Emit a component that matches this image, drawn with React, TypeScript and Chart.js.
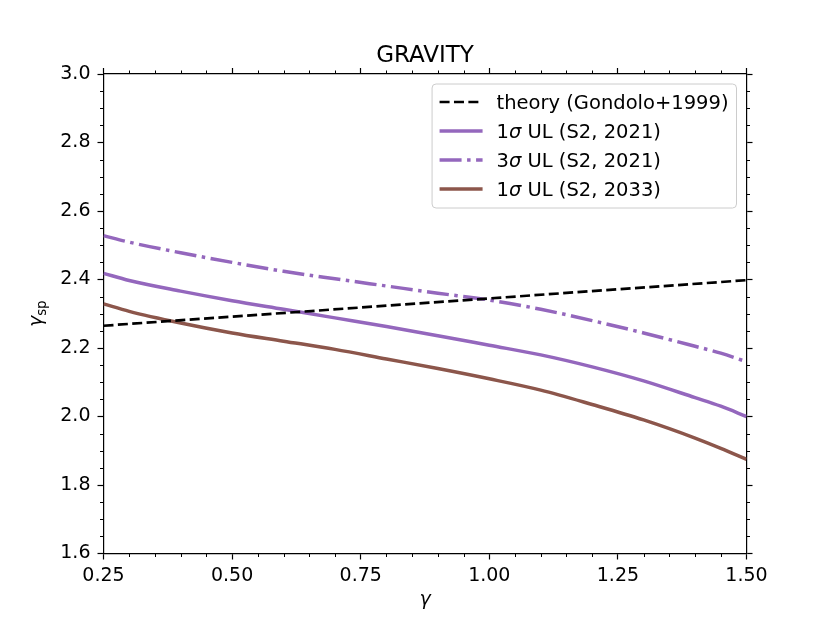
import { useEffect, useRef } from 'react'
import { Chart, registerables } from 'chart.js'

Chart.register(...registerables)

// gamma grid the upper limits were read on
const gammaGrid = [0.25, 0.3, 0.4, 0.5, 0.6, 0.7, 0.8, 0.9, 1.0, 1.1, 1.2, 1.3, 1.4, 1.45, 1.5]
const ul1sigma2021 = [2.418, 2.397, 2.366, 2.338, 2.313, 2.288, 2.263, 2.236, 2.208, 2.18, 2.145, 2.104, 2.055, 2.03, 2.0]
const ul3sigma2021 = [2.528, 2.509, 2.478, 2.45, 2.424, 2.402, 2.381, 2.36, 2.34, 2.313, 2.28, 2.244, 2.205, 2.185, 2.16]
const ul1sigma2033 = [2.329, 2.307, 2.273, 2.244, 2.22, 2.196, 2.168, 2.14, 2.11, 2.077, 2.035, 1.99, 1.937, 1.907, 1.875]

// theory (Gondolo+1999) is a straight line
const theoryGamma = [0.25, 1.5]
const theoryValues = [2.265, 2.398]

const xTickValues = [0.25, 0.5, 0.75, 1.0, 1.25, 1.5]
const yTickValues = [1.6, 1.8, 2.0, 2.2, 2.4, 2.6, 2.8, 3.0]
const xMinorPerMajor = 5
const yMinorPerMajor = 4

const FONT = '"DejaVu Sans", "Liberation Sans", sans-serif'
const TICK_SIZE = 19
const LEGEND_SIZE = 19.5

const minorBetween = (majors: number[], parts: number) => {
  const out: number[] = []
  for (let i = 0; i < majors.length - 1; i++) {
    const step = (majors[i + 1] - majors[i]) / parts
    for (let k = 1; k < parts; k++) out.push(majors[i] + k * step)
  }
  return out
}

const toPoints = (xs: number[], ys: number[]) => xs.map((x, i) => ({ x, y: ys[i] }))

// draws text, Greek letters in italic (like mathtext)
const drawRich = (ctx: CanvasRenderingContext2D, text: string, x: number, y: number, size: number) => {
  let cx = x
  for (const ch of text) {
    const greek = /[\u0370-\u03ff]/.test(ch)
    ctx.font = `${greek ? 'italic ' : ''}${size}px ${FONT}`
    ctx.fillText(ch, cx, y)
    cx += ctx.measureText(ch).width
  }
  return cx - x
}

const measureRich = (ctx: CanvasRenderingContext2D, text: string, size: number) => {
  let w = 0
  for (const ch of text) {
    const greek = /[\u0370-\u03ff]/.test(ch)
    ctx.font = `${greek ? 'italic ' : ''}${size}px ${FONT}`
    w += ctx.measureText(ch).width
  }
  return w
}

const decorations = {
  id: 'decorations',
  afterDraw(chart: any) {
    const ctx: CanvasRenderingContext2D = chart.ctx
    const { left, right, top, bottom } = chart.chartArea
    const xs = chart.scales.x
    const ys = chart.scales.y
    ctx.save()

    // minor ticks on all four sides, pointing out
    ctx.strokeStyle = '#000'
    ctx.lineWidth = 1
    ctx.beginPath()
    for (const v of minorBetween(xTickValues, xMinorPerMajor)) {
      const px = Math.round(xs.getPixelForValue(v)) + 0.5
      ctx.moveTo(px, bottom); ctx.lineTo(px, bottom + 3.5)
      ctx.moveTo(px, top); ctx.lineTo(px, top - 3.5)
    }
    for (const v of minorBetween(yTickValues, yMinorPerMajor)) {
      const py = Math.round(ys.getPixelForValue(v)) + 0.5
      ctx.moveTo(left, py); ctx.lineTo(left - 3.5, py)
      ctx.moveTo(right, py); ctx.lineTo(right + 3.5, py)
    }
    ctx.stroke()

    // title
    ctx.fillStyle = '#000'
    ctx.textAlign = 'center'
    ctx.textBaseline = 'alphabetic'
    ctx.font = `23px ${FONT}`
    ctx.fillText('GRAVITY', (left + right) / 2, 62)

    // x label
    ctx.font = `italic ${TICK_SIZE}px ${FONT}`
    ctx.fillText('γ', (left + right) / 2, 605)

    // y label, gamma with "sp" subscript
    ctx.save()
    ctx.translate(42, (top + bottom) / 2)
    ctx.rotate(-Math.PI / 2)
    ctx.font = `italic ${TICK_SIZE}px ${FONT}`
    const gw = ctx.measureText('γ').width
    ctx.font = `13.3px ${FONT}`
    const sw = ctx.measureText('sp').width
    const start = -(gw + sw) / 2
    ctx.textAlign = 'left'
    ctx.font = `italic ${TICK_SIZE}px ${FONT}`
    ctx.fillText('γ', start, 0)
    ctx.font = `13.3px ${FONT}`
    ctx.fillText('sp', start + gw, 4)
    ctx.restore()

    // legend in the upper right corner
    const items = chart.data.datasets
    const textW = Math.max(...items.map((d: any) => measureRich(ctx, d.label, LEGEND_SIZE)))
    const handle = 43
    const boxW = 7.5 + handle + 14 + textW + 8
    const boxR = right - 10
    const boxL = boxR - boxW
    const boxT = top + 10
    const rowH = 29
    const boxH = 18 + rowH * (items.length - 1) + 19
    ctx.beginPath()
    ctx.roundRect(boxL, boxT, boxW, boxH, 4)
    ctx.fillStyle = 'rgba(255,255,255,0.8)'
    ctx.fill()
    ctx.strokeStyle = '#cccccc'
    ctx.lineWidth = 1
    ctx.stroke()
    ctx.textAlign = 'left'
    items.forEach((d: any, i: number) => {
      const cy = boxT + 18 + i * rowH
      ctx.beginPath()
      ctx.setLineDash(d.borderDash || [])
      ctx.lineCap = 'butt'
      ctx.strokeStyle = d.borderColor
      ctx.lineWidth = d.borderWidth
      ctx.moveTo(boxL + 7.5, cy)
      ctx.lineTo(boxL + 7.5 + handle, cy)
      ctx.stroke()
      ctx.setLineDash([])
      ctx.fillStyle = '#000'
      drawRich(ctx, d.label, boxL + 7.5 + handle + 14, cy + 7, LEGEND_SIZE)
    })
    ctx.restore()
  }
}

const axisBase = (min: number, max: number, position: string) => ({
  type: 'linear' as const,
  position,
  min,
  max,
  grid: { drawOnChartArea: false, drawTicks: true, tickLength: 6, tickColor: '#000', tickWidth: 1.2 },
  border: { display: true, color: '#000', width: 1.2 }
})

export default function App() {
  const canvasRef = useRef<HTMLCanvasElement>(null)

  useEffect(() => {
    if (!canvasRef.current) return
    Chart.defaults.font.family = FONT
    const chart = new Chart(canvasRef.current, {
      type: 'line',
      data: {
        datasets: [
          {
            label: 'theory (Gondolo+1999)',
            data: toPoints(theoryGamma, theoryValues),
            borderColor: '#000000',
            borderWidth: 2.7,
            borderDash: [10, 4.4],
            pointRadius: 0
          },
          {
            label: '1σ UL (S2, 2021)',
            data: toPoints(gammaGrid, ul1sigma2021),
            borderColor: '#9467bd',
            borderWidth: 3.5,
            pointRadius: 0,
            cubicInterpolationMode: 'monotone'
          },
          {
            label: '3σ UL (S2, 2021)',
            data: toPoints(gammaGrid, ul3sigma2021),
            borderColor: '#9467bd',
            borderWidth: 3.5,
            borderDash: [22, 5.5, 3.5, 5.5],
            pointRadius: 0,
            cubicInterpolationMode: 'monotone'
          },
          {
            label: '1σ UL (S2, 2033)',
            data: toPoints(gammaGrid, ul1sigma2033),
            borderColor: '#8c564b',
            borderWidth: 3.5,
            pointRadius: 0,
            cubicInterpolationMode: 'monotone'
          }
        ]
      },
      options: {
        animation: false,
        responsive: false,
        layout: { padding: 0 },
        plugins: {
          legend: { display: false },
          tooltip: { enabled: false }
        },
        scales: {
          x: {
            ...axisBase(0.25, 1.5, 'bottom'),
            afterBuildTicks: (s: any) => { s.ticks = xTickValues.map(value => ({ value })) },
            afterFit: (s: any) => { s.height = 69.5 },
            ticks: {
              color: '#000',
              font: { size: TICK_SIZE },
              padding: 5,
              maxRotation: 0,
              autoSkip: false,
              callback: (v: any) => Number(v).toFixed(2)
            }
          },
          x2: {
            ...axisBase(0.25, 1.5, 'top'),
            afterBuildTicks: (s: any) => { s.ticks = xTickValues.map(value => ({ value })) },
            afterFit: (s: any) => { s.height = 74 },
            ticks: { display: false }
          },
          y: {
            ...axisBase(1.6, 3.0, 'left'),
            afterBuildTicks: (s: any) => { s.ticks = yTickValues.map(value => ({ value })) },
            afterFit: (s: any) => { s.width = 103.5 },
            ticks: {
              color: '#000',
              font: { size: TICK_SIZE },
              padding: 7,
              autoSkip: false,
              callback: (v: any) => Number(v).toFixed(1)
            }
          },
          y2: {
            ...axisBase(1.6, 3.0, 'right'),
            afterBuildTicks: (s: any) => { s.ticks = yTickValues.map(value => ({ value })) },
            afterFit: (s: any) => { s.width = 83.5 },
            ticks: { display: false }
          }
        }
      } as any,
      plugins: [decorations]
    })

    return () => {
      chart.destroy()
    }
  }, [])

  return (
    <div style={{ position: 'absolute', left: 0, top: 0, width: 830, height: 623, background: '#fff' }}>
      <canvas ref={canvasRef} width={830} height={623} />
    </div>
  )
}
